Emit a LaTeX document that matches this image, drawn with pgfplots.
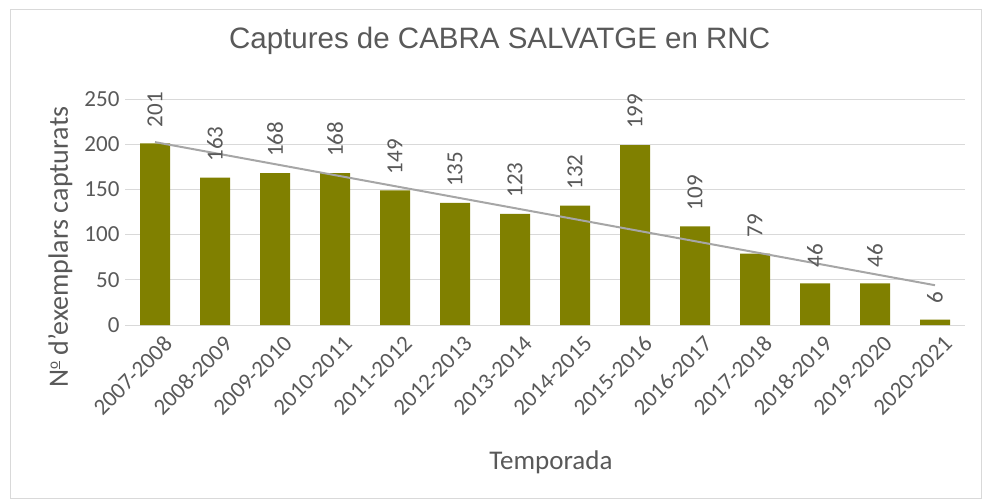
\documentclass[border=0pt]{standalone}
\usepackage{pgfplots}
\pgfplotsset{compat=1.18}
\usepackage{fontspec}
\setmainfont{Carlito}
\newfontfamily\titlefont{Liberation Sans}
\definecolor{barc}{HTML}{808000}
\definecolor{txt}{HTML}{595959}
\definecolor{gridc}{HTML}{D9D9D9}
\definecolor{trend}{HTML}{A6A6A6}
\begin{document}
\begin{tikzpicture}[x=1pt,y=1pt]
\useasboundingbox (0,0) rectangle (982,499);
\draw[gridc, line width=1pt] (10,0.5) rectangle (981.5,489);
\begin{axis}[
  at={(125pt,174pt)}, anchor=south west,
  scale only axis, width=840pt, height=226pt,
  xmin=-0.5, xmax=13.5, ymin=0, ymax=250,
  ytick={0,50,100,150,200,250},
  xtick={0,...,13},
  xticklabels={2007-2008,2008-2009,2009-2010,2010-2011,2011-2012,2012-2013,2013-2014,2014-2015,2015-2016,2016-2017,2017-2018,2018-2019,2019-2020,2020-2021},
  axis line style={draw=none},
  major tick length=0pt,
  ymajorgrids, grid style={gridc, line width=1pt},
  /pgf/number format/assume math mode=true,
  tick label style={font=\fontsize{23}{27}\selectfont, text=txt},
  yticklabel style={xshift=-2pt},
  xticklabel style={rotate=45, anchor=east, xshift=2pt, yshift=-20pt},
  title={\titlefont Captures de CABRA SALVATGE en RNC},
  title style={font=\fontsize{29.5}{34}\selectfont, text=txt, at={(axis description cs:0.446,1.23)}, anchor=center},
  ylabel={N\raisebox{0.75ex}{\fontsize{15}{15}\selectfont\underline{o}} d'exemplars capturats},
  ylabel style={font=\fontsize{28}{32}\selectfont, text=txt, at={(axis description cs:-0.077,0.345)}, anchor=center},
  xlabel={Temporada},
  xlabel style={font=\fontsize{27}{31}\selectfont, text=txt, at={(axis description cs:0.507,-0.606)}, anchor=center},
  clip=false,
]
\addplot[ybar, bar width=30pt, fill=barc, draw=none,
  nodes near coords,
  every node near coord/.append style={rotate=90, anchor=west, inner xsep=16pt, inner ysep=0pt, font=\fontsize{23}{27}\selectfont, text=txt},
] coordinates {
(0,201)(1,163)(2,168)(3,168)(4,149)(5,135)(6,123)(7,132)(8,199)(9,109)(10,79)(11,46)(12,46)(13,6)
};
\addplot[trend, line width=2pt, no markers] coordinates {(0,202.3)(13,44.0)};
\end{axis}
\end{tikzpicture}
\end{document}
